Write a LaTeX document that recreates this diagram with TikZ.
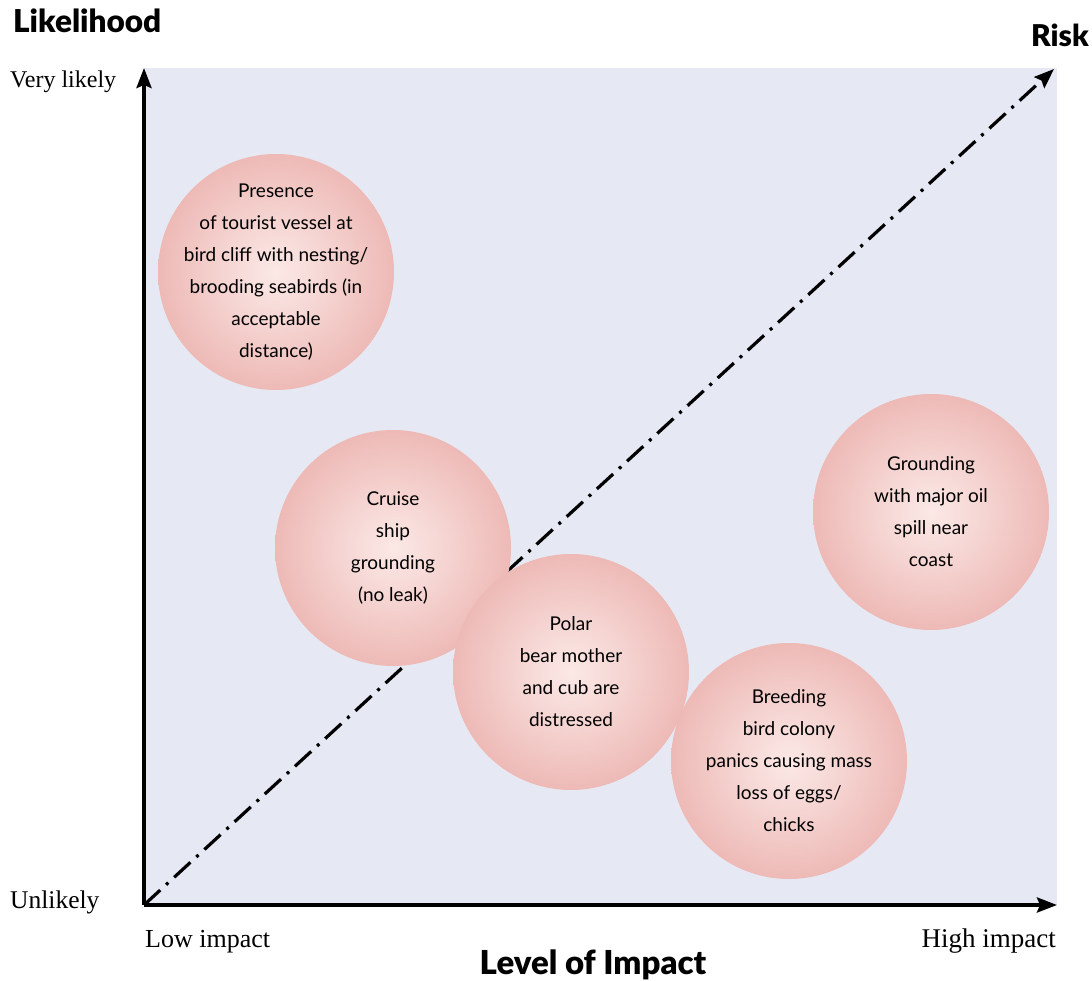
\documentclass[tikz,border=0pt]{standalone}
\usepackage{fontspec}
\setmainfont{Liberation Serif}
\newfontfamily\blobfont{Lato}
\newfontfamily\headfont{Lato Black}
\usetikzlibrary{arrows.meta}
\definecolor{bgcol}{HTML}{E6E8F4}
\pgfdeclareradialshading{blob}{\pgfpoint{0bp}{0bp}}{%
  rgb(0bp)=(0.985,0.91,0.90);
  rgb(7bp)=(0.97,0.865,0.855);
  rgb(28bp)=(0.925,0.705,0.69);
  rgb(50bp)=(0.895,0.6,0.59);
  rgb(100bp)=(0.895,0.6,0.59)}
\begin{document}
\begin{tikzpicture}[x=1pt,y=-1pt,
  blobnode/.style={circle, shading=blob, minimum size=236pt, inner sep=-60pt,
    align=center, font=\blobfont\fontsize{19}{32}\selectfont, text=black},
  axisline/.style={line width=3.5pt, -{Stealth[length=20pt,width=15pt,inset=3pt]}},
  riskline/.style={line width=3.2pt, dash pattern=on 22pt off 8pt on 3pt off 8pt,
    -{Stealth[length=20pt,width=15pt,inset=3pt]}},
  seriflabel/.style={inner sep=0pt},
  headlabel/.style={inner sep=0pt}]
\useasboundingbox (0,0) rectangle (1092,981);
\fill[bgcol] (144,68) rectangle (1057,905);
\coordinate (o) at (144,905);
\coordinate (ytop) at (144,68);
\coordinate (xend) at (1057,905);
\coordinate (rtop) at (1054,69);
\draw[riskline] (o) -- (rtop);
\node[blobnode] (presence) at (276,272) {Presence\\of tourist vessel at\\bird cliff with nesting/\\brooding seabirds (in\\acceptable\\distance)};
\node[blobnode] (cruise) at (393,548) {Cruise\\ship\\grounding\\(no leak)};
\node[blobnode] (polar) at (571,672) {Polar\\bear mother\\and cub are\\distressed};
\node[blobnode] (oil) at (931,512) {Grounding\\with major oil\\spill near\\coast};
\node[blobnode] (breed) at (789,761) {Breeding\\bird colony\\panics causing mass\\loss of eggs/\\chicks};
\draw[axisline] (o) -- (ytop);
\draw[axisline] (o) -- (xend);
\node[seriflabel, anchor=base west, font=\fontsize{24}{28}\selectfont] (vl) at (10,88) {Very likely};
\node[seriflabel, anchor=base west, font=\fontsize{25.5}{28}\selectfont] (ul) at (10,908) {Unlikely};
\node[seriflabel, anchor=base west, font=\fontsize{26}{28}\selectfont] (li) at (145,947) {Low impact};
\node[seriflabel, anchor=base east, font=\fontsize{27}{28}\selectfont] (hi) at (1056,947) {High impact};
\node[headlabel, anchor=base west, font=\headfont\fontsize{31.5}{34}\selectfont] (lh) at (13,33) {Likelihood};
\node[headlabel, anchor=base east, font=\headfont\fontsize{30}{34}\selectfont] (rk) at (1089,47) {Risk};
\node[headlabel, anchor=base, font=\headfont\fontsize{33}{36}\selectfont] (lv) at (593,974) {Level of Impact};
\end{tikzpicture}
\end{document}
